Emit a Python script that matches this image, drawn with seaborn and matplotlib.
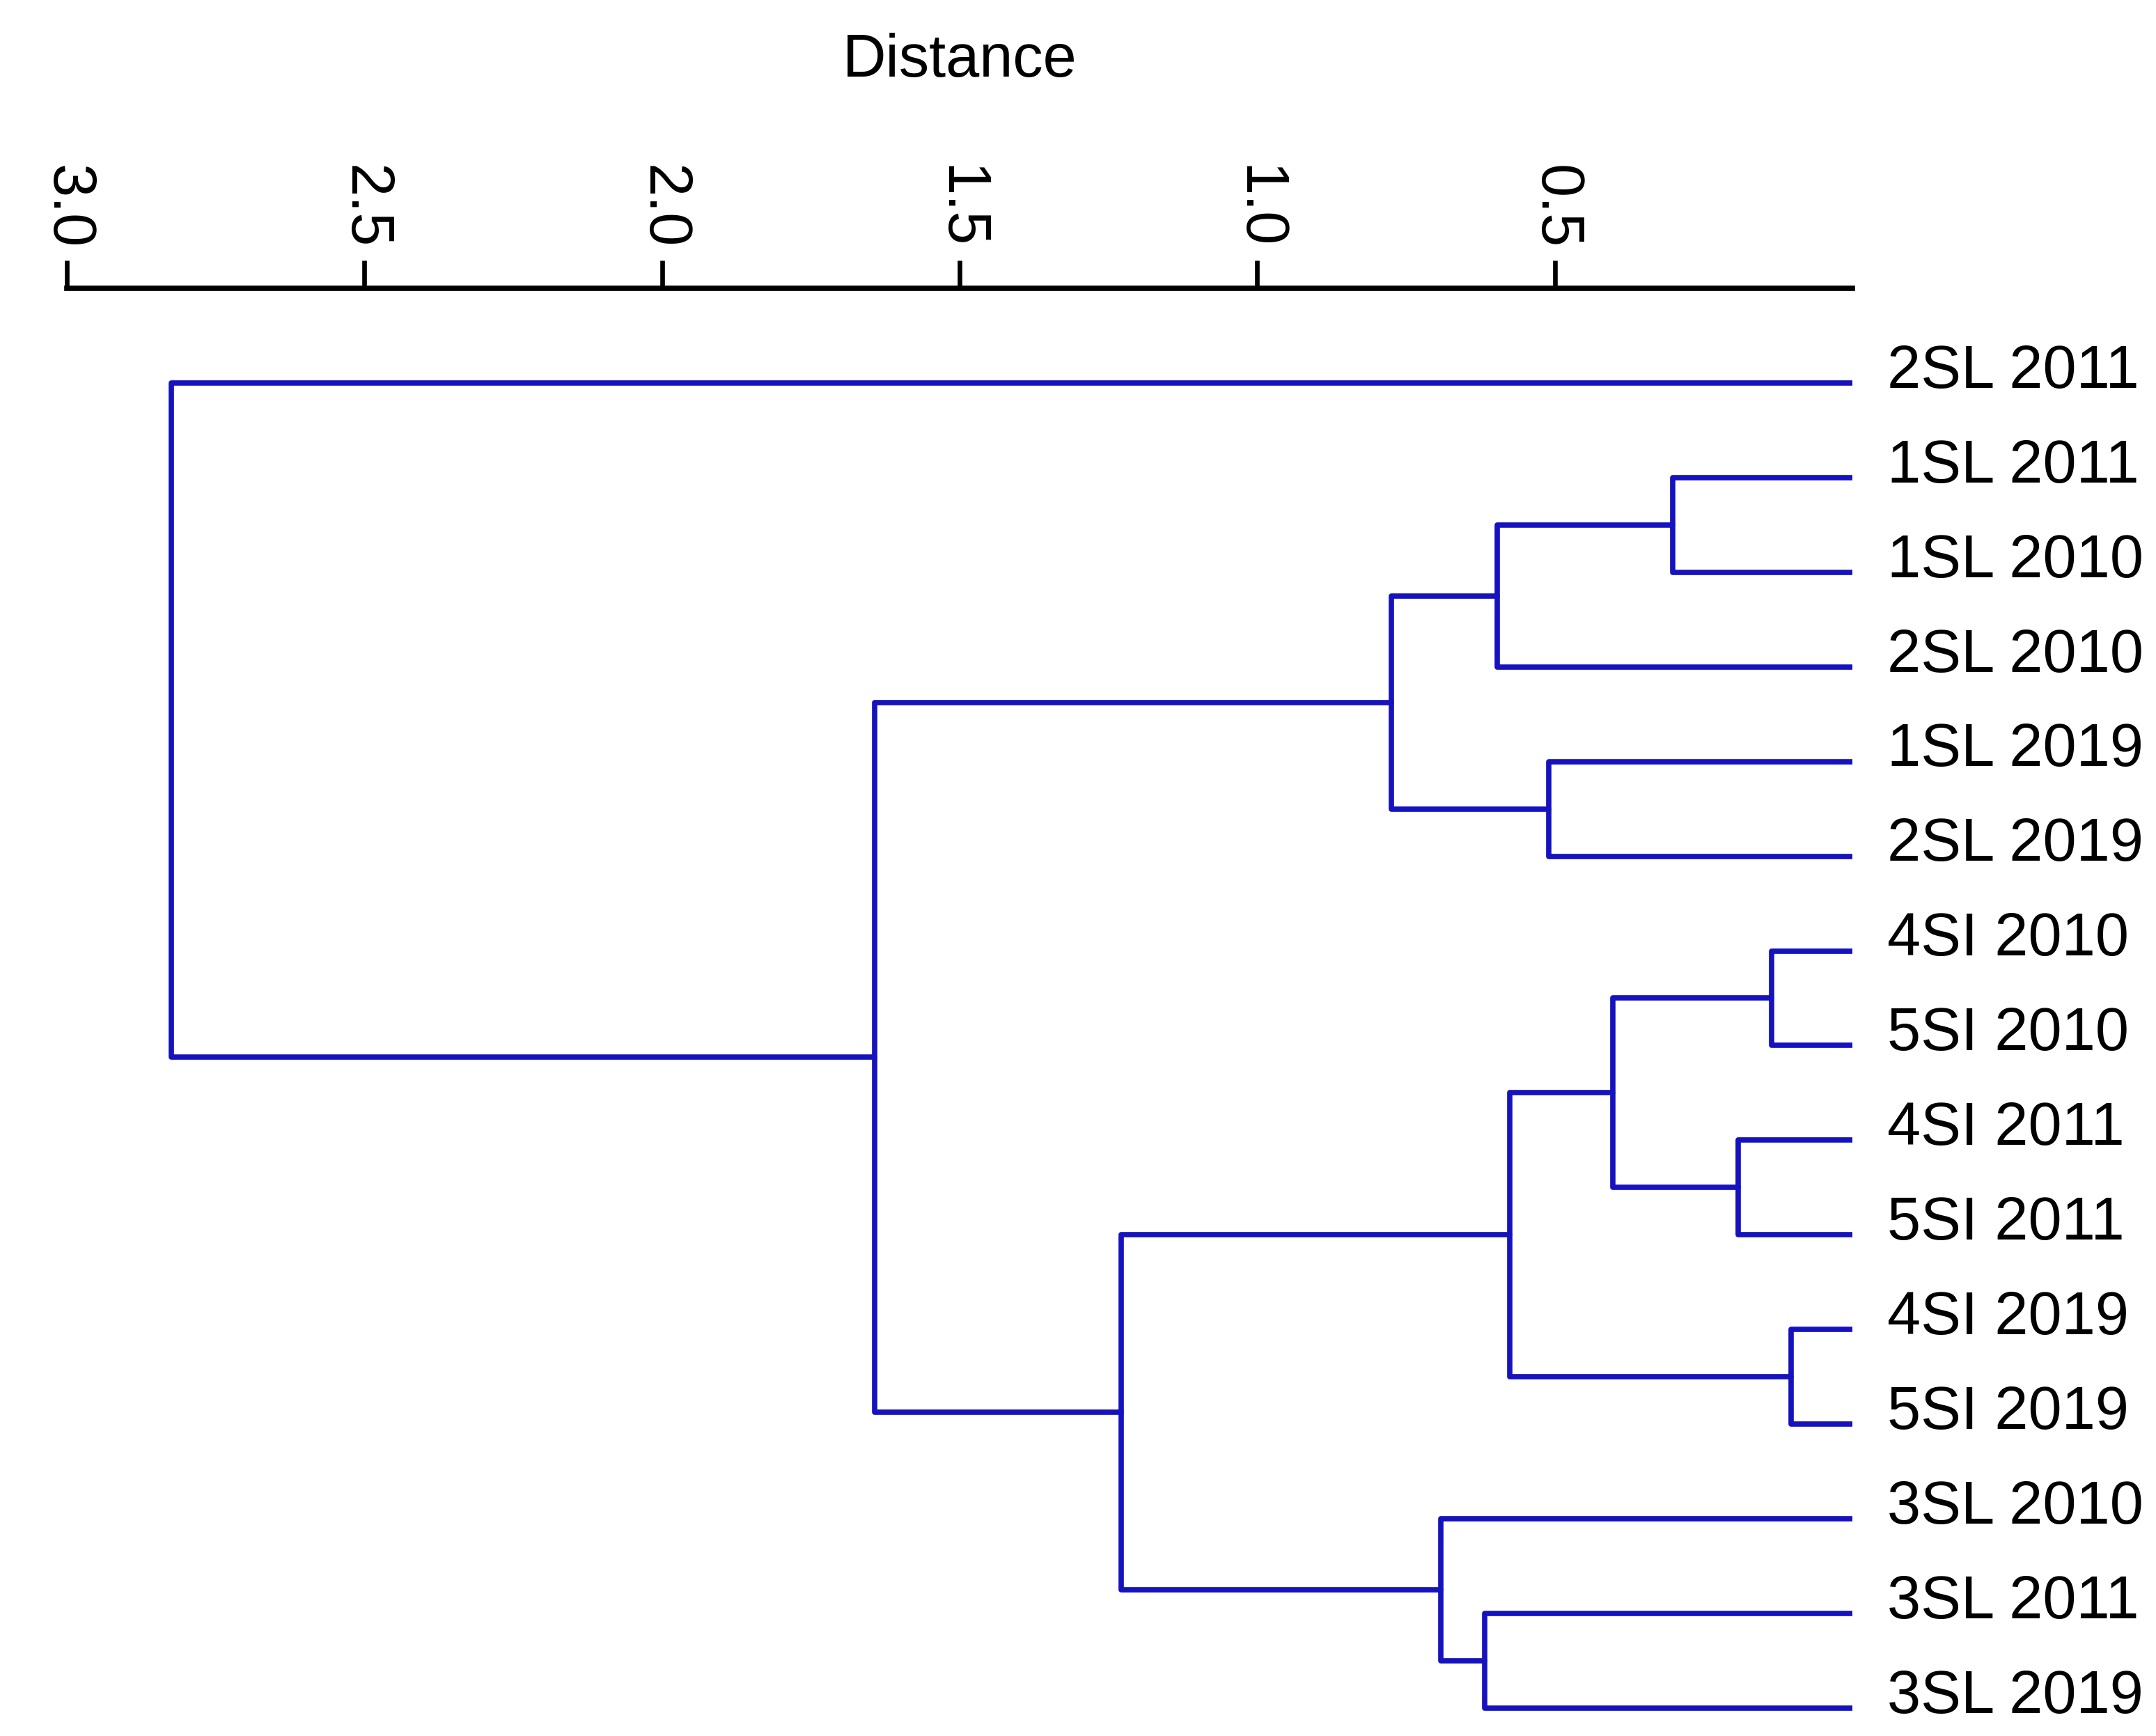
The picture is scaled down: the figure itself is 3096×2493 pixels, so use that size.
import numpy as np
import pandas as pd
import matplotlib
matplotlib.use("Agg")
import matplotlib.pyplot as plt
import matplotlib.transforms as mtransforms
import seaborn as sns

# leaves from top to bottom
leaf_labels = ["2SL 2011", "1SL 2011", "1SL 2010", "2SL 2010", "1SL 2019", "2SL 2019",
               "4SI 2010", "5SI 2010", "4SI 2011", "5SI 2011", "4SI 2019", "5SI 2019",
               "3SL 2010", "3SL 2011", "3SL 2019"]

# merges: child ids (0-14 leaves, 15+ previous merges) and merge distance
merge_left = [1, 15, 4, 16, 6, 8, 19, 10, 21, 13, 12, 23, 18, 0]
merge_right = [2, 3, 5, 17, 7, 9, 20, 11, 22, 14, 24, 25, 26, 27]
merge_height = [0.302, 0.597, 0.510, 0.775, 0.136, 0.192, 0.403, 0.103,
                0.576, 0.618, 0.691, 1.229, 1.643, 2.825]

x_ticks = [3.0, 2.5, 2.0, 1.5, 1.0, 0.5]
line_color = "#1512BE"


def dendro_segments(n_leaves, lefts, rights, heights):
    """Build U-shaped link paths like a dendrogram"""
    pos = list(range(n_leaves))
    hgt = [0.0] * n_leaves
    rows = []
    for k, (l, r, h) in enumerate(zip(lefts, rights, heights)):
        pts = [(hgt[l], pos[l]), (h, pos[l]), (h, pos[r]), (hgt[r], pos[r])]
        for d, p in pts:
            rows.append({"link": k, "dist": d, "pos": p})
        pos.append((pos[l] + pos[r]) / 2.0)
        hgt.append(h)
    return pd.DataFrame(rows)


seg_df = dendro_segments(len(leaf_labels), merge_left, merge_right, merge_height)

sns.set_theme(style="white")
plt.rcParams['font.family'] = ['Liberation Sans', 'DejaVu Sans']
plt.rcParams['text.color'] = 'black'
plt.rcParams['axes.labelcolor'] = 'black'
plt.rcParams['xtick.color'] = 'black'

fig = plt.figure(figsize=(12.9, 10.3875), dpi=240)
ax = fig.add_axes([0.0310, 0.0052, 0.8282, 0.8287])

sns.lineplot(data=seg_df, x="dist", y="pos", units="link", estimator=None, sort=False,
             color=line_color, linewidth=2.3, solid_joinstyle="round",
             ax=ax, legend=False)

ax.set_xlim(3.0, 0.0)
ax.set_ylim(14.2, -1.0)

for s in ["left", "right", "bottom"]:
    ax.spines[s].set_visible(False)
ax.spines["top"].set_linewidth(2.3)
ax.spines["top"].set_color("black")

ax.xaxis.tick_top()
ax.xaxis.set_label_position("top")
ax.set_xticks(x_ticks)
ax.set_xticklabels([f"{t:.1f}" for t in x_ticks])
ax.tick_params(axis="x", direction="out", length=12, width=2.0, color="black",
               labelcolor="black", labelsize=26, rotation=-90, pad=5,
               top=True, bottom=False)
ax.set_xlabel("Distance", fontsize=26, labelpad=38, color="black")
ax.set_yticks([])
ax.set_ylabel("")

# leaf labels on the right
trans = mtransforms.blended_transform_factory(ax.transAxes, ax.transData)
trans = mtransforms.offset_copy(trans, fig=fig, x=15, y=0, units="points")
for i, lab in enumerate(leaf_labels):
    ax.text(1.0, i + 0.05, lab, transform=trans, ha="left", va="baseline",
            fontsize=26, color="black")

fig.savefig("out.png", dpi=240, facecolor="white")
